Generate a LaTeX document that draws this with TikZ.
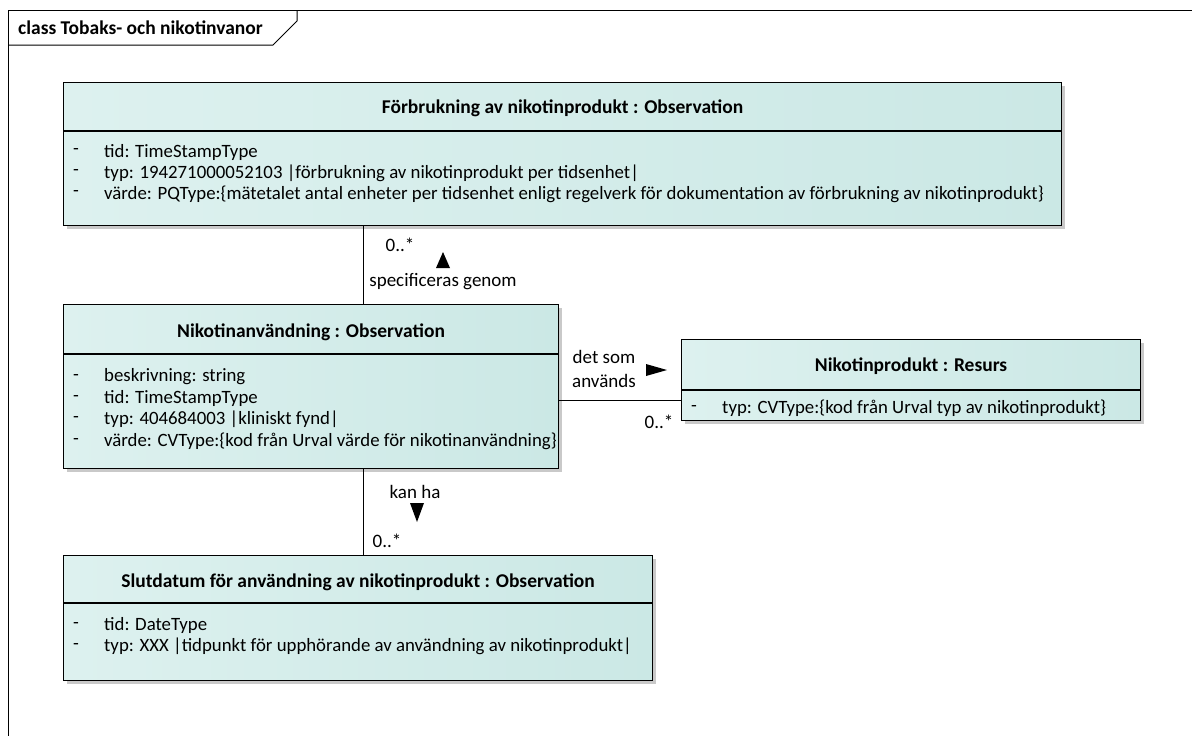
\documentclass[tikz,border=0pt]{standalone}
\usepackage{fontspec}
\setmainfont{Carlito}
\usetikzlibrary{shadows}
\definecolor{boxL}{HTML}{DDF1EF}
\definecolor{boxR}{HTML}{CBE8E5}
\tikzset{
  umlbox/.style={draw=black, line width=1.1pt, left color=boxL, right color=boxR,
    anchor=north west, inner sep=0pt,
    drop shadow={shadow xshift=3pt, shadow yshift=-3pt, fill=black!35, opacity=0.6}},
  ttl/.style={font=\fontsize{19.5}{22}\selectfont\bfseries, inner sep=0pt},
  attr/.style={font=\fontsize{18.8}{22}\selectfont, anchor=west, inner sep=0pt},
  lbl/.style={font=\fontsize{19}{22}\selectfont, inner sep=0pt},
  conn/.style={draw=black, line width=0.9pt},
  tri/.style={fill=black}
}
\begin{document}
\begin{tikzpicture}[x=1pt,y=-1pt]
\useasboundingbox (0,0) rectangle (1192,736);
\fill[white] (0,0) rectangle (1192,736);
% frame
\draw[line width=1pt] (8,736) -- (8,10) -- (1192,10);
\draw[line width=1pt] (8,45) -- (273,45) -- (297,21) -- (297,10);
\node[font=\fontsize{19.5}{22}\selectfont\bfseries, inner sep=0pt, anchor=west] (frametitle) at (18,28) {class Tobaks- och nikotinvanor};

% boxes
\node[umlbox, minimum width=998pt, minimum height=143pt] (b1) at (63,82) {};
\node[umlbox, minimum width=495pt, minimum height=164pt] (b2) at (63,304) {};
\node[umlbox, minimum width=459pt, minimum height=81pt] (b3) at (681,339) {};
\node[umlbox, minimum width=589pt, minimum height=125pt] (b4) at (63,555) {};

% dividers
\draw[line width=1.1pt] ([yshift=-49pt]b1.north west) -- ([yshift=-49pt]b1.north east);
\draw[line width=1.1pt] ([yshift=-50pt]b2.north west) -- ([yshift=-50pt]b2.north east);
\draw[line width=1.1pt] ([yshift=-51pt]b3.north west) -- ([yshift=-51pt]b3.north east);
\draw[line width=1.1pt] ([yshift=-48pt]b4.north west) -- ([yshift=-48pt]b4.north east);

% titles
\node[ttl] (t1) at ([yshift=-26pt]b1.north) {Förbrukning av nikotinprodukt : Observation};
\node[ttl] (t2) at ([yshift=-28pt]b2.north) {Nikotinanvändning : Observation};
\node[ttl] (t3) at ([yshift=-27pt]b3.north) {Nikotinprodukt : Resurs};
\node[ttl] (t4) at ([yshift=-27pt]b4.north) {Slutdatum för användning av nikotinprodukt : Observation};

% attributes box 1
\node[attr] (d11) at (73,152) {-};
\node[attr] (a11) at (104,152) {tid: TimeStampType};
\node[attr] (d12) at (73,173) {-};
\node[attr] (a12) at (104,173) {typ: 194271000052103 |förbrukning av nikotinprodukt per tidsenhet|};
\node[attr] (d13) at (73,194) {-};
\node[attr] (a13) at (104,194) {värde: PQType:\{mätetalet antal enheter per tidsenhet enligt regelverk för dokumentation av förbrukning av nikotinprodukt\}};

% attributes box 2
\node[attr] (d21) at (73,377) {-};
\node[attr] (a21) at (104,377) {beskrivning: string};
\node[attr] (d22) at (73,398) {-};
\node[attr] (a22) at (104,398) {tid: TimeStampType};
\node[attr] (d23) at (73,419) {-};
\node[attr] (a23) at (104,419) {typ: 404684003 |kliniskt fynd|};
\node[attr] (d24) at (73,441) {-};
\node[attr] (a24) at (104,441) {värde: CVType:\{kod från Urval värde för nikotinanvändning\}};

% attributes box 3
\node[attr] (d31) at (691,408) {-};
\node[attr] (a31) at (722,408) {typ: CVType:\{kod från Urval typ av nikotinprodukt\}};

% attributes box 4
\node[attr] (d41) at (73,625) {-};
\node[attr] (a41) at (104,625) {tid: DateType};
\node[attr] (d42) at (73,646) {-};
\node[attr] (a42) at (104,646) {typ: XXX |tidpunkt för upphörande av användning av nikotinprodukt|};

% connectors
\draw[conn] ([xshift=300pt]b2.north west) -- ([xshift=300pt]b2.north west |- b1.south);
\draw[conn] ([yshift=-61pt]b3.north west) -- ([yshift=-61pt]b3.north west -| b2.east);
\draw[conn] ([xshift=300pt]b4.north west) -- ([xshift=300pt]b4.north west |- b2.south);

% labels connector 1
\node[lbl] (m1) at (400,245) {0..*};
\fill[tri] (436,268) -- (450,268) -- (443,252) -- cycle;
\node[lbl] (n1) at (443,282) {specificeras genom};

% labels connector 2
\node[lbl] (n2a) at (604,357) {det som};
\node[lbl] (n2b) at (604,381) {används};
\fill[tri] (646,364) -- (646,376) -- (667,370) -- cycle;
\node[lbl] (m2) at (659,422) {0..*};

% labels connector 3
\node[lbl] (n3) at (415,492) {kan ha};
\fill[tri] (410,503) -- (424,503) -- (417,522) -- cycle;
\node[lbl] (m3) at (387,541) {0..*};
\end{tikzpicture}
\end{document}
